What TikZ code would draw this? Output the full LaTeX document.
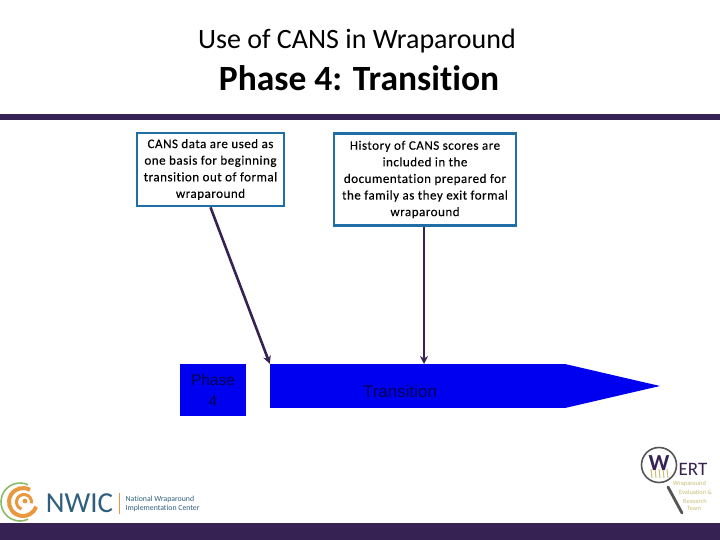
\documentclass[tikz,border=0pt]{standalone}
\usepackage{fontspec}
\setmainfont{Carlito}[Ligatures=NoCommon]
\newfontfamily\notef{Carlito}[Ligatures=NoCommon,LetterSpace=4,FakeBold=0.25]
\newfontfamily\arialf{Liberation Sans}
\usetikzlibrary{arrows.meta}
\definecolor{barpurple}{HTML}{372254}
\definecolor{boxblue}{HTML}{1F6EA6}
\definecolor{phaseblue}{HTML}{0000F0}
\definecolor{phasetext}{HTML}{000050}
\definecolor{nwicblue}{HTML}{2F5F7F}
\definecolor{nwicorange}{HTML}{E9983F}
\definecolor{nwicgreen}{HTML}{8DBB6A}
\definecolor{wertgold}{HTML}{C9BE78}
\definecolor{lensgray}{HTML}{555555}
\tikzset{
  x=1pt,y=-1pt,
  bar/.style={fill=barpurple,draw=none},
  notebox/.style={draw=boxblue,line width=2.6pt,fill=white,align=center,inner sep=0pt,font=\notef\fontsize{13}{16.6}\selectfont,text=black},
  phasebox/.style={fill=phaseblue,draw=none,inner sep=0pt,align=center,font=\arialf\fontsize{15.5}{21}\selectfont,text=phasetext},
  link/.style={draw=barpurple,line width=2.6pt,-{Stealth[length=8pt,width=8pt]}},
  tiny/.style={font=\fontsize{7.8}{9}\selectfont,inner sep=0pt,align=left},
  wtiny/.style={font=\fontsize{6.4}{7}\selectfont,inner sep=0pt,anchor=west,text=wertgold}
}
\begin{document}
\begin{tikzpicture}
\useasboundingbox (0,0) rectangle (720,540);
\fill[white] (0,0) rectangle (720,540);
\node[inner sep=0pt,font=\fontsize{28}{32}\selectfont] (sub) at (357,41) {Use of CANS in Wraparound};
\node[inner sep=0pt,font=\bfseries\fontsize{35.5}{40}\selectfont] (ttl) at (359,78) {Phase 4: Transition};
\fill[bar] (0,114) rectangle (720,120);
\fill[bar] (0,523) rectangle (720,540);
\node[notebox,minimum width=147pt,minimum height=73pt] (b1) at (210.5,169.5) {CANS data are used as\\one basis for beginning\\transition out of formal\\wraparound};
\node[notebox,minimum width=182pt,minimum height=92pt] (b2) at (425,179.5) {History of CANS scores are\\included in the\\documentation prepared for\\the family as they exit formal\\wraparound};
\node[phasebox,minimum width=66pt,minimum height=52pt] (p4) at (213,390) {Phase\\4};
\fill[phaseblue] (565,364) -- (660,386) -- (565,408) -- cycle;
\node[phasebox,minimum width=295pt,minimum height=44pt] (tr) at (417.5,386) {};
\node[phasebox,fill=none,font=\arialf\fontsize{17}{21}\selectfont] (trl) at (400,391.5) {Transition};
\coordinate (t1) at (tr.north west);
\coordinate (t2) at (424,364);
\draw[link] (b1.south) -- (t1);
\draw[link] (b2.south -| t2) -- (t2);
% NWIC logo (y axis points down, so angles run clockwise on the page)
\coordinate (sc) at (20,502);
\draw[nwicgreen,line width=1.6pt] ([shift={(295:19)}]sc) arc (295:65:19);
\draw[nwicorange,line width=4pt] ([shift={(300:14)}]23,502) arc (300:20:14);
\draw[nwicorange,line width=3pt] ([shift={(10:7.5)}]24,502) arc (10:-250:7.5);
\fill[nwicorange] (25,501) circle (2.4);
\node[inner sep=0pt,text=nwicblue,font=\fontsize{29}{30}\selectfont] (nw) at (79.5,503) {NWIC};
\draw[nwicorange,line width=.8pt] (119,493) -- (119,514);
\node[tiny,anchor=west,text=nwicblue] (nw2) at (125.5,499) {National Wraparound};
\node[tiny,anchor=west,text=nwicblue] (nw3) at (125.5,508.5) {Implementation Center};
% WERT logo
\draw[lensgray,line width=1.6pt] (659,465) circle (17.5);
\draw[lensgray,line width=2.8pt,line cap=round] (668,487) -- (682,513);
\foreach \x in {651,655,659,663,667}{\draw[wertgold,line width=1pt] (\x,469) -- (\x+1,478);}
\node[inner sep=0pt,text=barpurple,font=\bfseries\fontsize{23}{24}\selectfont] (w) at (659,463) {W};
\node[inner sep=0pt,text=barpurple,font=\fontsize{19}{20}\selectfont] (ert) at (693,469) {ERT};
\node[wtiny] (w1) at (673,484) {Wraparound};
\node[wtiny] (w2) at (679,492.5) {Evaluation \&};
\node[wtiny] (w3) at (683,501) {Research};
\node[wtiny] (w4) at (687,508.5) {Team};
\end{tikzpicture}
\end{document}
